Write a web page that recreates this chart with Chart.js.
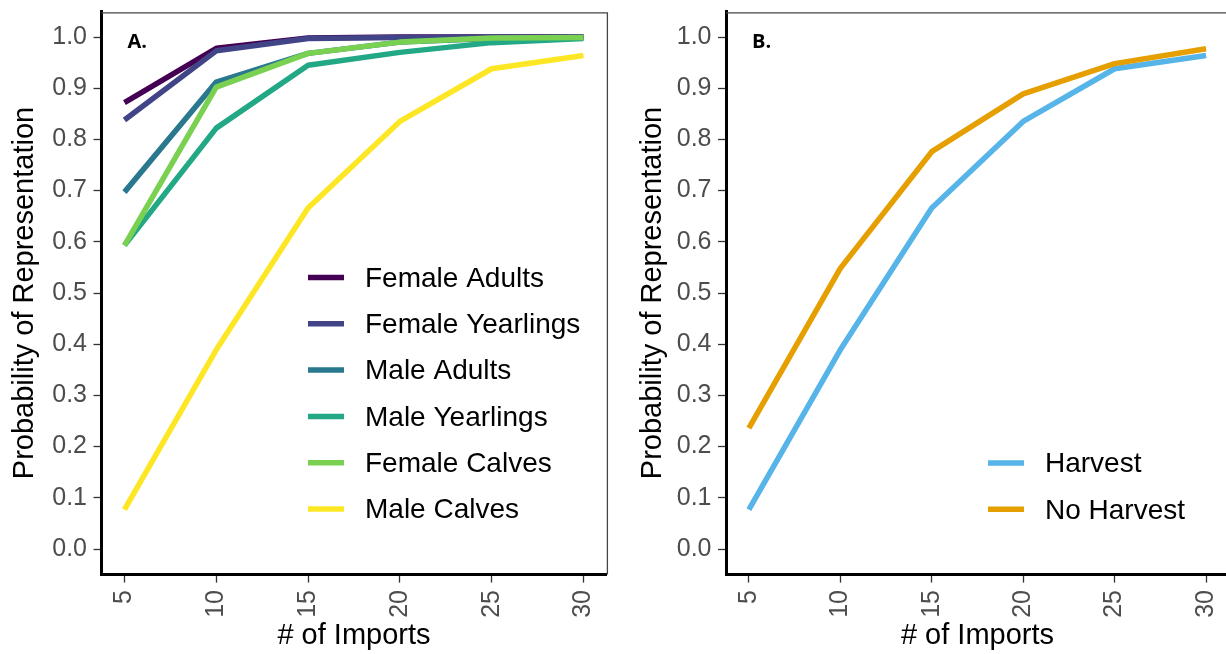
<!DOCTYPE html>
<html>
<head>
<meta charset="utf-8">
<script src="https://cdn.jsdelivr.net/npm/chart.js@4.4.1/dist/chart.umd.min.js"></script>
<style>
	html, body { margin: 0; padding: 0; background: #fff; overflow: hidden; }
	#wrap { position: relative; width: 1226px; height: 654px; overflow: hidden; }
	canvas { position: absolute; top: 0; }
	#left { left: 0; }
	#right { left: 628px; }
</style>
</head>
<body>
<div id="wrap">
	<canvas id="left" width="620" height="654"></canvas>
	<canvas id="right" width="610" height="654"></canvas>
</div>
<script>
var imports = [5, 10, 15, 20, 25, 30];
var yTicks = [0, 0.1, 0.2, 0.3, 0.4, 0.5, 0.6, 0.7, 0.8, 0.9, 1.0];

// panel A: age / sex classes
var femaleAdults = [0.872, 0.978, 0.998, 1.0, 1.0, 1.0];
var femaleYearlings = [0.838, 0.973, 0.997, 0.999, 1.0, 1.0];
var maleAdults = [0.697, 0.912, 0.968, 0.990, 0.997, 0.999];
var maleYearlings = [0.593, 0.822, 0.945, 0.970, 0.989, 0.997];
var femaleCalves = [0.593, 0.902, 0.968, 0.990, 0.998, 0.999];
var maleCalves = [0.077, 0.389, 0.666, 0.835, 0.938, 0.964];

// panel B: harvest scenarios
var harvest = [0.077, 0.389, 0.666, 0.835, 0.938, 0.964];
var noHarvest = [0.236, 0.548, 0.776, 0.889, 0.948, 0.977];

var FONT = "'Liberation Sans', Arial, sans-serif";

function points(values) {
	return values.map(function(v, i) {
		return {x: imports[i], y: v};
	});
}

function series(label, values, color, n, i) {
	return {
		label: label,
		data: points(values),
		borderColor: color,
		backgroundColor: color,
		borderWidth: 5.5,
		borderJoinStyle: 'round',
		borderCapStyle: 'butt',
		pointRadius: 0,
		tension: 0,
		fill: false,
		// later series sit on top
		order: n - i
	};
}

// thin frame on the top and right of the plot area
var frame = {
	id: 'frame',
	afterDatasetsDraw: function(chart) {
		var a = chart.chartArea;
		var ctx = chart.ctx;
		ctx.save();
		ctx.strokeStyle = '#444';
		ctx.lineWidth = 1.3;
		ctx.beginPath();
		ctx.moveTo(a.left, a.top + 1.5);
		ctx.lineTo(a.right + 1, a.top + 1.5);
		ctx.lineTo(a.right + 1, a.bottom);
		ctx.stroke();
		ctx.restore();
	}
};

// "A." / "B." tag in the top-left corner
var panelTag = {
	id: 'panelTag',
	afterDraw: function(chart, args, opts) {
		var a = chart.chartArea;
		var ctx = chart.ctx;
		ctx.save();
		ctx.fillStyle = '#000';
		ctx.font = "bold 20px 'Open Sans', sans-serif";
		ctx.textAlign = 'left';
		ctx.textBaseline = 'alphabetic';
		ctx.fillText(opts.text, a.left + opts.dx, a.top + 37);
		ctx.restore();
	}
};

// legend drawn inside the plot area
var insideLegend = {
	id: 'insideLegend',
	afterDraw: function(chart, args, opts) {
		var a = chart.chartArea;
		var ctx = chart.ctx;
		ctx.save();
		ctx.font = '28px ' + FONT;
		ctx.textAlign = 'left';
		ctx.textBaseline = 'middle';
		chart.data.datasets.forEach(function(ds, i) {
			var x = a.left + opts.x;
			var y = a.top + opts.y + i * 46.3;
			ctx.strokeStyle = ds.borderColor;
			ctx.lineWidth = 5.5;
			ctx.beginPath();
			ctx.moveTo(x, y);
			ctx.lineTo(x + 36, y);
			ctx.stroke();
			ctx.fillStyle = '#000';
			ctx.fillText(ds.label, x + 57, y + 1.5);
		});
		ctx.restore();
	}
};

function makeOptions(yWidth, padRight, tag, legend) {
	return {
		responsive: false,
		animation: false,
		layout: {padding: {left: 0, top: 11.4, right: padRight, bottom: 0}},
		plugins: {
			legend: {display: false},
			tooltip: {enabled: false},
			panelTag: tag,
			insideLegend: legend
		},
		scales: {
			x: {
				type: 'linear',
				min: 3.75,
				max: 31.25,
				afterBuildTicks: function(scale) {
					scale.ticks = imports.map(function(v) { return {value: v}; });
				},
				afterFit: function(scale) {
					scale.height = 79.4;
					scale.paddingLeft = 0;
					scale.paddingRight = 0;
				},
				grid: {drawOnChartArea: false, drawTicks: true, tickLength: 8, tickColor: '#333', tickWidth: 1.3},
				border: {display: true, color: '#000', width: 3},
				ticks: {
					autoSkip: false,
					minRotation: 90,
					maxRotation: 90,
					padding: 7.4,
					color: '#4D4D4D',
					font: {family: FONT, size: 25}
				},
				title: {
					display: true,
					text: '# of Imports',
					color: '#000',
					font: {family: FONT, size: 29},
					padding: {top: 0, bottom: 0.6}
				}
			},
			y: {
				type: 'linear',
				min: -0.05,
				max: 1.05,
				afterBuildTicks: function(scale) {
					scale.ticks = yTicks.map(function(v) { return {value: v}; });
				},
				afterFit: function(scale) {
					scale.width = yWidth;
					scale.paddingTop = 0;
					scale.paddingBottom = 0;
				},
				grid: {drawOnChartArea: false, drawTicks: true, tickLength: 8, tickColor: '#333', tickWidth: 1.3},
				border: {display: true, color: '#000', width: 3},
				ticks: {
					padding: 6.5,
					color: '#4D4D4D',
					font: {family: FONT, size: 25},
					callback: function(v) { return Number(v).toFixed(1); }
				},
				title: {
					display: true,
					text: 'Probability of Representation',
					color: '#000',
					font: {family: FONT, size: 29},
					padding: {top: 7.6, bottom: 0}
				}
			}
		}
	};
}

var classLabels = ['Female Adults', 'Female Yearlings', 'Male Adults', 'Male Yearlings', 'Female Calves', 'Male Calves'];
var classValues = [femaleAdults, femaleYearlings, maleAdults, maleYearlings, femaleCalves, maleCalves];
var classColors = ['#440154', '#414487', '#2A788E', '#22A884', '#7AD151', '#FDE725'];

new Chart(document.getElementById('left').getContext('2d'), {
	type: 'line',
	data: {
		datasets: classLabels.map(function(label, i) {
			return series(label, classValues[i], classColors[i], classLabels.length, i);
		})
	},
	options: makeOptions(101.5, 13.6, {text: 'A.', dx: 26}, {x: 206.5, y: 266.1}),
	plugins: [frame, panelTag, insideLegend]
});

var harvestLabels = ['Harvest', 'No Harvest'];
var harvestValues = [harvest, noHarvest];
var harvestColors = ['#56B4E9', '#E69F00'];

new Chart(document.getElementById('right').getContext('2d'), {
	type: 'line',
	data: {
		datasets: harvestLabels.map(function(label, i) {
			return series(label, harvestValues[i], harvestColors[i], harvestLabels.length, i);
		})
	},
	options: makeOptions(98, 9.1, {text: 'B.', dx: 26}, {x: 262, y: 451.6}),
	plugins: [frame, panelTag, insideLegend]
});
</script>
</body>
</html>
